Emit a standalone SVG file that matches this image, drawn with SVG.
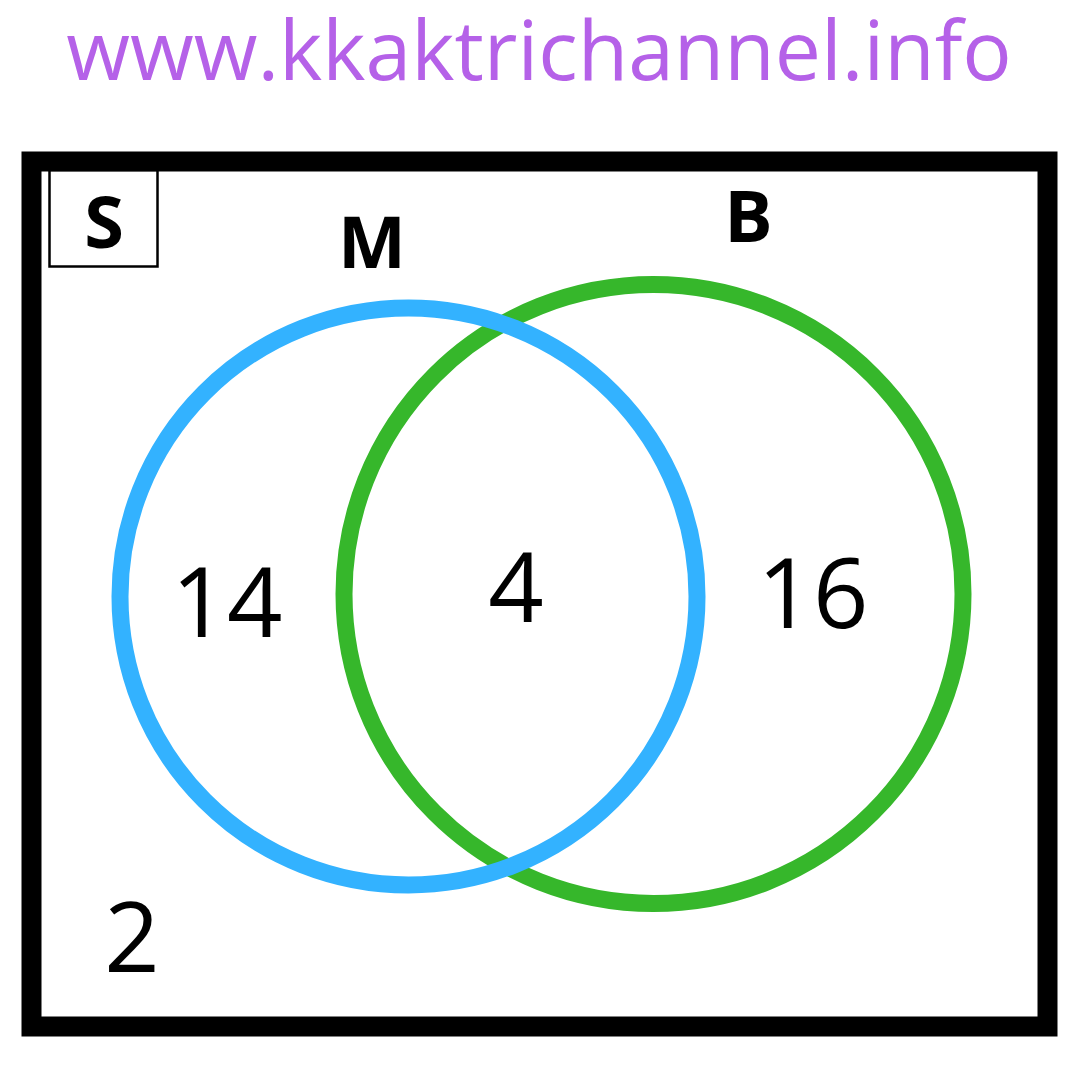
<svg xmlns="http://www.w3.org/2000/svg" width="1080" height="1080" viewBox="0 0 1080 1080">
<style>
.num{font-family:"Open Sans","Noto Sans",sans-serif;font-size:97px;fill:#000}
.lbl{font-family:"Open Sans","Noto Sans",sans-serif;font-weight:bold;font-size:72px;fill:#000}
</style>
<rect width="1080" height="1080" fill="#fff"/>
<text x="539" y="80" text-anchor="middle" font-family="'Open Sans','Noto Sans',sans-serif" font-size="82.3" fill="#b561e8">www.kkaktrichannel.info</text>
<g id="universe">
<rect x="31.5" y="161.5" width="1016" height="865" fill="none" stroke="#000" stroke-width="20"/>
<rect x="49.5" y="170" width="108" height="96.5" fill="none" stroke="#000" stroke-width="2.5"/>
<text class="lbl" x="104" y="248" text-anchor="middle" font-size="70">S</text>
<text class="num" x="132" y="972" text-anchor="middle">2</text>
</g>
<g id="B">
<circle cx="653.5" cy="594" r="309.5" fill="none" stroke="#36b72b" stroke-width="17"/>
<text class="lbl" x="748.5" y="242" text-anchor="middle">B</text>
<text class="num" x="813" y="628" text-anchor="middle">16</text>
</g>
<g id="M">
<circle cx="408.5" cy="596.5" r="288.5" fill="none" stroke="#33b2ff" stroke-width="17"/>
<text class="lbl" x="372" y="268" text-anchor="middle">M</text>
<text class="num" x="227" y="637" text-anchor="middle">14</text>
</g>
<g id="MB">
<text class="num" x="516" y="622" text-anchor="middle">4</text>
</g>
</svg>
